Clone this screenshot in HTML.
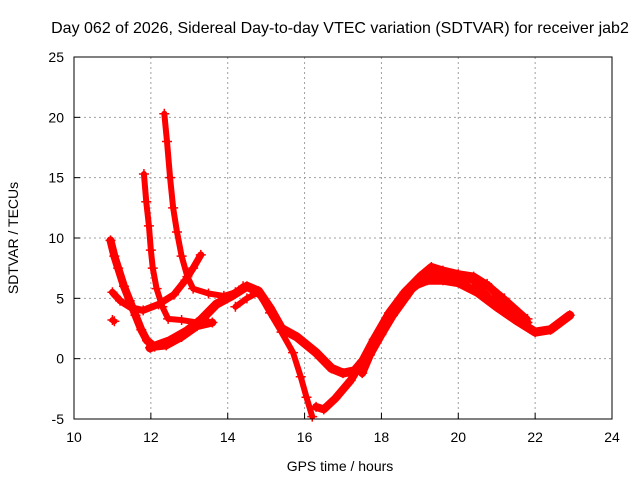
<!DOCTYPE html>
<html><head><meta charset="utf-8"><style>
body{margin:0;background:#fff}
svg text{font-family:"Liberation Sans",sans-serif;font-size:14px;fill:#000}
</style></head><body>
<svg id="chart" width="640" height="480">
<text x="340" y="33" text-anchor="middle" style="font-size:16px">Day 062 of 2026, Sidereal Day-to-day VTEC variation (SDTVAR) for receiver jab2</text>
<text x="340" y="471" text-anchor="middle">GPS time / hours</text>
<text x="18" y="238" text-anchor="middle" transform="rotate(-90 18 238)">SDTVAR / TECUs</text>
<g id="grid"></g><g id="marks"></g>
<rect x="74" y="57" width="538" height="362" fill="none" stroke="#000" stroke-width="1"/>
</svg>
<script>
const xTicks=[10,12,14,16,18,20,22,24];
const yTicks=[-5,0,5,10,15,20,25];
const track1=[[10.95,9.8],[11.05,8.5],[11.15,7.5],[11.3,6],[11.45,4.8],[11.6,3.6],[11.75,2.4],[11.9,1.5],[12.1,1.0],[12.4,1.1],[12.8,1.8],[13.2,2.7],[13.6,3.0]];
const track2=[[11.0,5.5],[11.2,4.8],[11.5,4.2],[11.8,4.0],[12.2,4.5],[12.6,5.3],[12.9,6.5],[13.1,7.5],[13.3,8.6]];
const track3=[[11.82,15.3],[11.88,13],[11.95,11],[12.0,9],[12.05,7.5],[12.15,5.8],[12.3,4.3],[12.45,3.3],[12.8,3.2],[13.2,3.0],[13.5,3.0]];
const track4=[[12.35,20.3],[12.42,18],[12.5,15],[12.58,12.5],[12.68,10.5],[12.8,8.5],[12.95,6.8],[13.1,5.8],[13.5,5.4],[13.9,5.2],[14.2,5.5],[14.4,6.0],[14.6,5.7],[14.85,5.2],[15.1,3.8],[15.4,2.2],[15.7,0.5],[15.9,-1.5],[16.05,-3.2],[16.2,-4.8]];
const track5=[[11.98,0.9],[12.5,1.5],[12.94,2.3],[13.3,3.2],[13.7,4.5],[14.1,5.2],[14.5,6.0],[14.8,5.6],[15.1,4.2],[15.4,2.5],[15.8,1.8],[16.3,0.5],[16.7,-0.8],[17.0,-1.2],[17.3,-1.0],[17.7,0.5],[18.0,2.5],[18.4,4.3],[18.8,6.0],[19.2,6.5],[19.6,6.5],[20.0,6.3],[20.5,5.5],[21.0,4.3],[21.5,3.2],[22.0,2.2],[22.4,2.4],[22.9,3.6]];
const track6=[[16.3,-4.0],[16.5,-4.2],[16.8,-3.3],[17.2,-1.8],[17.5,-0.2],[17.8,1.6],[18.2,3.8],[18.6,5.5],[19.0,6.8],[19.3,7.6],[19.6,7.3],[20.0,7.0],[20.4,6.8],[20.8,6.0],[21.2,4.6],[21.7,3.4]];
const track7=[[17.5,-1.2],[17.7,0.3],[18.0,2.0],[18.3,3.6],[18.8,5.8],[19.2,6.8],[19.5,7.2],[20.0,6.8],[20.4,6.5],[20.8,5.0],[21.2,4.3],[21.8,3.0]];
const track8=[[20.75,6.2],[21.2,5.0],[21.8,3.3]];
const track9=[[14.2,4.3],[14.5,5.0],[14.8,5.5]];
const track10=[[11.0,3.2],[11.05,3.1]];
const tracks=[track1,track2,track3,track4,track5,track6,track7,track8,track9,track10];
const widths=[8,7,6,6,9,8,8,6,6,6];
const X0=74,X1=612,Y0=419,Y1=57;
const xs=v=>X0+(v-10)/(24-10)*(X1-X0);
const ys=v=>Y0-(v+5)/30*(Y0-Y1);
const NS='http://www.w3.org/2000/svg';
const grid=document.getElementById('grid'),marks=document.getElementById('marks');
function mk(t,a,p){const e=document.createElementNS(NS,t);for(const k in a)e.setAttribute(k,a[k]);p.appendChild(e);return e;}
xTicks.forEach(t=>{const x=xs(t);
 if(t>10&&t<24){const l=mk('line',{x1:x,x2:x,y1:Y1,y2:Y0,stroke:'#a0a0a0','stroke-dasharray':'2,3'},grid);
 
 }
 const k=mk('line',{x1:x,x2:x,y1:Y0,y2:Y0-6,stroke:'#000'},grid);
 
 
 const tx=mk('text',{x:x,y:442,'text-anchor':'middle'},grid);tx.textContent=t;
 
 });
yTicks.forEach(t=>{const y=ys(t);
 if(t>-5&&t<25){const l=mk('line',{x1:X0,x2:X1,y1:y,y2:y,stroke:'#a0a0a0','stroke-dasharray':'2,3'},grid);
 
 }
 const k=mk('line',{x1:X0,x2:X0+6,y1:y,y2:y,stroke:'#000'},grid);
 
 
 const tx=mk('text',{x:X0-10,y:y+5,'text-anchor':'end'},grid);tx.textContent=t;
 
 });
tracks.forEach((tr,i)=>{
 const pl=mk('polyline',{points:tr.map(p=>xs(p[0])+','+ys(p[1])).join(' '),fill:'none',stroke:'#ff0000','stroke-width':widths[i],'stroke-linejoin':'round','stroke-linecap':'round'},marks);
 
 
 tr.forEach(p=>{const x=xs(p[0]),y=ys(p[1]);
  const g=mk('path',{d:`M${x-5},${y}H${x+5}M${x},${y-5}V${y+5}`,stroke:'#ff0000','stroke-width':1.5},marks);
  
  });
});
</script>
</body></html>
